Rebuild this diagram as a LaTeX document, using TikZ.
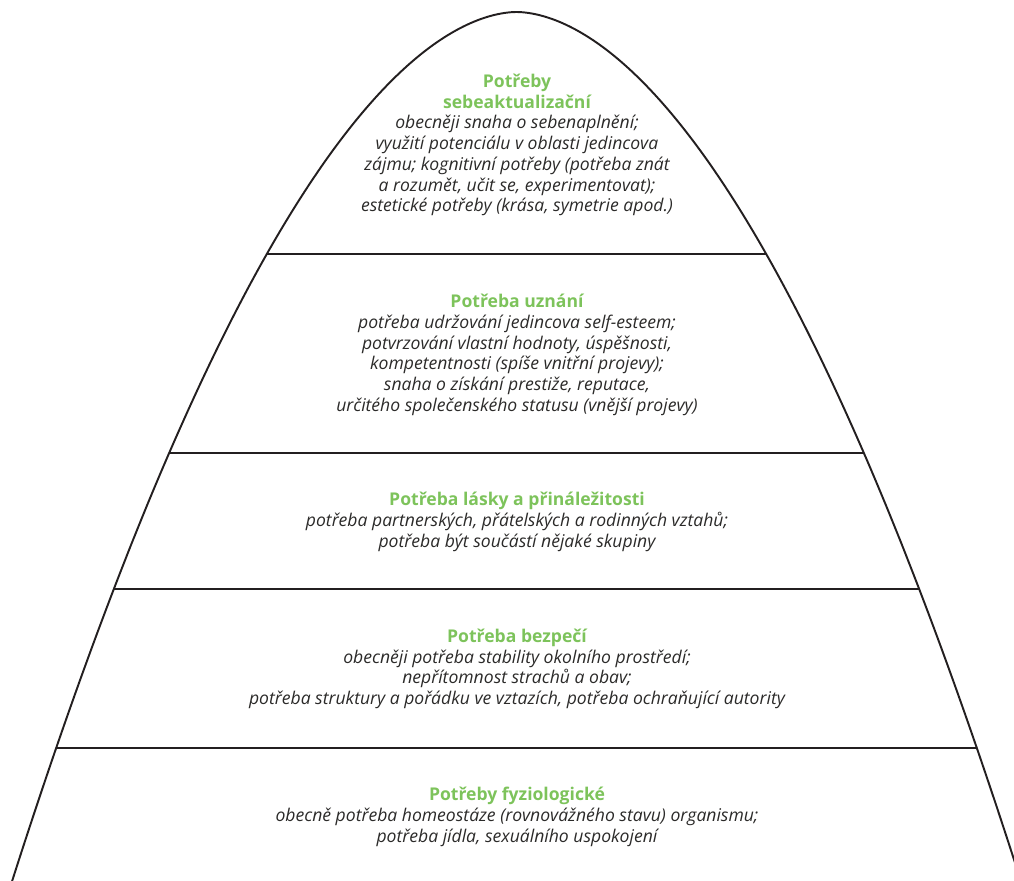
\documentclass[tikz,border=0pt]{standalone}
\usepackage{fontspec}
\setmainfont{Open Sans}
\usepackage{tikz}
\usetikzlibrary{positioning, calc}

\definecolor{needgreen}{HTML}{7DC35B}
\definecolor{needtext}{HTML}{2B2A29}
\definecolor{needline}{HTML}{231F20}

\newcommand{\tiername}[1]{\textcolor{needgreen}{\bfseries\upshape #1}}

\tikzset{
    tier/.style={align=center, text=needtext, font=\fontsize{10}{11.8}\selectfont\itshape, inner sep=0pt},
    outline/.style={draw=needline, line width=1.1pt}
}

\begin{document}
\begin{tikzpicture}[x=0.02cm, y=-0.02cm]

    % rozměry obrázku (px)
    \useasboundingbox (0,0) rectangle (1014,881);
    \clip (0,0) rectangle (1014,881);

    % --- obrys ---
    \def\cx{516.5}
    \draw[outline] plot[domain=-530:530, samples=200, smooth]
        (\cx+\x, {12 + (abs(\x)/12.2)^(1/0.55)});

    % --- dělicí čáry ---
    \foreach \y in {254, 453, 589, 748} {
        \pgfmathsetmacro{\w}{12.2*(\y-12)^0.55}
        \draw[outline] (\cx-\w, \y) -- (\cx+\w, \y);
    }

    % --- texty ---
    \node[tier] (selfact) at (517, 145) {%
        \tiername{Potřeby}\\
        \tiername{sebeaktualizační}\\
        obecněji snaha o sebenaplnění;\\
        využití potenciálu v oblasti jedincova\\
        zájmu; kognitivní potřeby (potřeba znát\\
        a rozumět, učit se, experimentovat);\\
        estetické potřeby (krása, symetrie apod.)};

    \node[tier] (esteem) at (517, 355) {%
        \tiername{Potřeba uznání}\\
        potřeba udržování jedincova self-esteem;\\
        potvrzování vlastní hodnoty, úspěšnosti,\\
        kompetentnosti (spíše vnitřní projevy);\\
        snaha o získání prestiže, reputace,\\
        určitého společenského statusu (vnější projevy)};

    \node[tier] (love) at (517, 522) {%
        \tiername{Potřeba lásky a přináležitosti}\\
        potřeba partnerských, přátelských a rodinných vztahů;\\
        potřeba být součástí nějaké skupiny};

    \node[tier] (safety) at (517, 669) {%
        \tiername{Potřeba bezpečí}\\
        obecněji potřeba stability okolního prostředí;\\
        nepřítomnost strachů a obav;\\
        potřeba struktury a pořádku ve vztazích, potřeba ochraňující autority};

    \node[tier] (physio) at (517, 817) {%
        \tiername{Potřeby fyziologické}\\
        obecně potřeba homeostáze (rovnovážného stavu) organismu;\\
        potřeba jídla, sexuálního uspokojení};

\end{tikzpicture}
\end{document}
